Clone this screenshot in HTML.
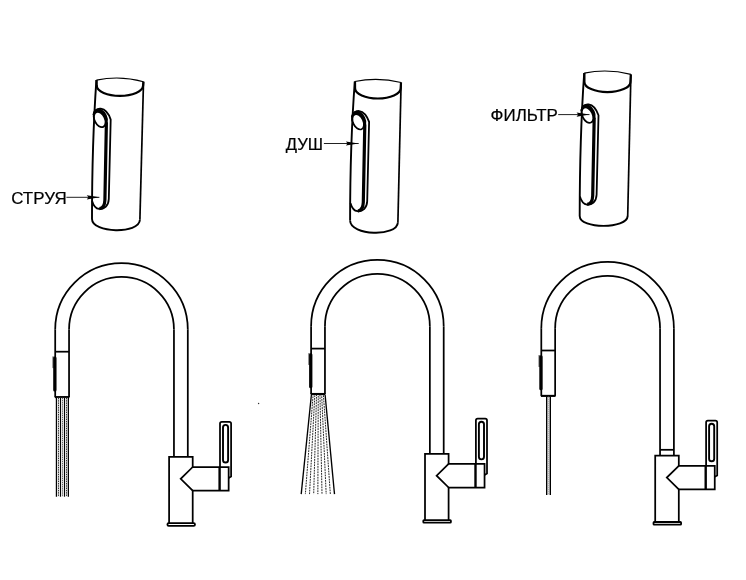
<!DOCTYPE html>
<html><head><meta charset="utf-8"><title>Faucet modes</title>
<style>html,body{margin:0;padding:0;background:#fff;}svg{display:block;} text{will-change:transform;}</style>
</head><body>
<svg width="746" height="580" viewBox="0 0 746 580">
<rect width="746" height="580" fill="#fff"/>
<g fill="none" stroke="#000" stroke-width="1.75"><path d="M55.2,329.4 A66.3,66.3 0 0 1 187.8,329.4" /><path d="M69.05,329.4 A52.45,52.45 0 0 1 173.95,329.4" /><path d="M55.2,329.4 V397.1" /><path d="M69.05,329.4 V397.1" /><path d="M55.2,351.7 H69.05" /><path d="M54.8,397.1 H69.45" stroke-width="2.1" /><rect x="52.4" y="356.2" width="1.4" height="12" rx="0.6" fill="#666" stroke="none"/><rect x="53.2" y="356.4" width="3.3" height="35.0" rx="1.5" fill="#000" stroke="none"/><path d="M173.95,329.4 V456.9" /><path d="M187.8,329.4 V456.9" /><path d="M169.1,523.2 V456.9 H192.7 V467.0 H228.65 V490.6 H192.7 V523.2" /><path d="M192.7,467.0 L180.7,478.8 L192.7,490.6" /><path d="M219.6,467.0 V490.6" stroke-width="2.4"/><path d="M220.0,467.0 V423.6 Q220.0,421.8 221.8,421.8 H229.3 Q231.1,421.8 231.1,423.6 V476.6 L228.65,478" /><rect x="223.0" y="424.9" width="5.1" height="37.6" rx="2.55" stroke-width="1.9"/><rect x="167.4" y="523.2" width="27.6" height="2.6" rx="1.3" stroke-width="1.8"/><rect x="56.80" y="397.9" width="11.2" height="98.80" fill="#e4e4e4" stroke="none"/><path d="M56.40,397.9 V496.7" stroke-width="1.2"/><path d="M60.50,397.9 V496.7" stroke-width="1.0"/><path d="M64.50,397.9 V496.7" stroke-width="1.0"/><path d="M68.40,397.9 V496.7" stroke-width="1.2"/><path d="M58.50,397.9 V496.7" stroke-width="1.0" stroke="#333" stroke-dasharray="1.4 0.9"/><path d="M66.50,397.9 V496.7" stroke-width="1.0" stroke="#333" stroke-dasharray="1.4 0.9"/><path d="M62.50,397.9 V496.7" stroke-width="1.0" stroke="#666" stroke-dasharray="1.3 0.8"/></g>
<g fill="none" stroke="#000" stroke-width="1.75"><path d="M311.1,326.3 A66.3,66.3 0 0 1 443.7,326.3" /><path d="M324.95,326.3 A52.45,52.45 0 0 1 429.85,326.3" /><path d="M311.1,326.3 V394.0" /><path d="M324.95,326.3 V394.0" /><path d="M311.1,348.6 H324.95" /><path d="M310.7,394.0 H325.35" stroke-width="2.1" /><rect x="308.3" y="353.1" width="1.4" height="12" rx="0.6" fill="#666" stroke="none"/><rect x="309.1" y="353.3" width="3.3" height="35.0" rx="1.5" fill="#000" stroke="none"/><path d="M429.85,326.3 V453.8" /><path d="M443.7,326.3 V453.8" /><path d="M425.0,520.1 V453.8 H448.6 V463.9 H484.55 V487.5 H448.6 V520.1" /><path d="M448.6,463.9 L436.6,475.7 L448.6,487.5" /><path d="M475.5,463.9 V487.5" stroke-width="2.4"/><path d="M475.9,463.9 V420.5 Q475.9,418.7 477.7,418.7 H485.2 Q487.0,418.7 487.0,420.5 V473.5 L484.55,474.9" /><rect x="478.9" y="421.8" width="5.1" height="37.6" rx="2.55" stroke-width="1.9"/><rect x="423.3" y="520.1" width="27.6" height="2.6" rx="0.7" stroke-width="1.8"/><path d="M311.40,394.8 L301.20,494.1" stroke-width="1.35"/><path d="M313.11,394.8 L305.36,494.1" stroke-width="0.95" stroke="#1a1a1a" stroke-dasharray="1.8 0.9" stroke-dashoffset="1.10"/><path d="M314.82,394.8 L309.52,494.1" stroke-width="0.95" stroke="#1a1a1a" stroke-dasharray="1.8 0.9" stroke-dashoffset="2.20"/><path d="M316.54,394.8 L313.69,494.1" stroke-width="0.95" stroke="#1a1a1a" stroke-dasharray="1.8 0.9" stroke-dashoffset="0.60"/><path d="M318.25,394.8 L317.85,494.1" stroke-width="0.95" stroke="#1a1a1a" stroke-dasharray="1.8 0.9" stroke-dashoffset="1.70"/><path d="M319.96,394.8 L322.01,494.1" stroke-width="0.95" stroke="#1a1a1a" stroke-dasharray="1.8 0.9" stroke-dashoffset="0.10"/><path d="M321.67,394.8 L326.18,494.1" stroke-width="0.95" stroke="#1a1a1a" stroke-dasharray="1.8 0.9" stroke-dashoffset="1.20"/><path d="M323.39,394.8 L330.34,494.1" stroke-width="0.95" stroke="#1a1a1a" stroke-dasharray="1.8 0.9" stroke-dashoffset="2.30"/><path d="M325.10,394.8 L334.50,494.1" stroke-width="1.35"/></g>
<g fill="none" stroke="#000" stroke-width="1.75"><path d="M541.3,328.2 A66.3,66.3 0 0 1 673.9,328.2" /><path d="M555.15,328.2 A52.45,52.45 0 0 1 660.05,328.2" /><path d="M541.3,328.2 V395.9" /><path d="M555.15,328.2 V395.9" /><path d="M541.3,350.5 H555.15" /><path d="M540.9,395.9 H555.55" stroke-width="2.1" /><rect x="538.5" y="355.0" width="1.4" height="12" rx="0.6" fill="#666" stroke="none"/><rect x="539.3" y="355.2" width="3.3" height="35.0" rx="1.5" fill="#000" stroke="none"/><path d="M660.05,328.2 V455.7" /><path d="M673.9,328.2 V455.7" /><path d="M655.2,522.0 V455.7 H678.8 V465.8 H714.75 V489.4 H678.8 V522.0" /><path d="M678.8,465.8 L666.8,477.6 L678.8,489.4" /><path d="M705.7,465.8 V489.4" stroke-width="2.4"/><path d="M706.1,465.8 V422.4 Q706.1,420.6 707.9,420.6 H715.4 Q717.2,420.6 717.2,422.4 V475.4 L714.75,476.8" /><rect x="709.1" y="423.7" width="5.1" height="37.6" rx="2.55" stroke-width="1.9"/><rect x="653.5" y="522.0" width="27.6" height="2.6" rx="0.7" stroke-width="1.8"/><path d="M546.7,396.7 V495.0" stroke-width="1.4"/><path d="M550.3,396.7 V495.0" stroke-width="1.4"/><path d="M548.5,396.7 V495.0" stroke-width="0.9" stroke="#888" stroke-dasharray="1 1"/><path d="M660.05,449.8 H673.9" /></g>
<g transform="translate(96.4,80.1)" fill="none" stroke="#000"><path d="M0,0 Q23.55,-5.00 47.1,1.6" stroke-width="1.1"/><path d="M0.2,0 L0.32,5.80 A23.17,10.2 0 0 0 46.65,5.80 L47.0,1.6" stroke-width="2.2"/><path d="M0,0 Q-4.4,62.46 -4.4,138.8" stroke-width="1.9"/><path d="M47.1,1.6 L43.5,139.7" stroke-width="1.7"/><path d="M-4.4,138.8 C-4.3,153.27 43.0,154.17 43.5,139.7" stroke-width="1.9"/><g transform="translate(0,0)"><path d="M-3,35 C-1.5,26 9.5,25.5 14.3,39.5 L12.4,118.9 C12.1,125.9 7.6,129.4 2.7,128.8 C-0.9,128.4 -3.4,123.9 -4.3,120.8" stroke-width="1.8"/><path d="M10.0,42 L8.5,120 C8.3,125.5 6.5,128.3 3.0,128.6" stroke-width="3.2"/><ellipse cx="0" cy="0" rx="7.0" ry="9.8" transform="translate(3.9,37.8) rotate(-25)" fill="#000" stroke="none"/><ellipse cx="0" cy="0" rx="5.1" ry="8.15" transform="translate(3.35,39.4) rotate(-25)" fill="#fff" stroke-width="1.7"/></g></g>
<g transform="translate(354.8,81.5)" fill="none" stroke="#000"><path d="M0,0 Q23.15,-4.70 46.3,1.0" stroke-width="1.1"/><path d="M0.2,0 L0.27,6.80 A22.79,10.2 0 0 0 45.85,6.80 L46.2,1.0" stroke-width="2.2"/><path d="M0,0 Q-4.7,62.55 -4.7,139.0" stroke-width="1.9"/><path d="M46.3,1.0 L43.1,140.7" stroke-width="1.7"/><path d="M-4.7,139.0 C-4.6,154.13 42.6,155.83 43.1,140.7" stroke-width="1.9"/><g transform="translate(0,0.9)"><path d="M-3,35 C-1.5,26 9.5,25.5 14.3,39.5 L12.4,118.9 C12.1,125.9 7.6,129.4 2.7,128.8 C-0.9,128.4 -3.4,123.9 -4.3,120.8" stroke-width="1.8"/><path d="M10.0,42 L8.5,120 C8.3,125.5 6.5,128.3 3.0,128.6" stroke-width="3.2"/><ellipse cx="0" cy="0" rx="7.0" ry="9.8" transform="translate(3.9,37.8) rotate(-25)" fill="#000" stroke="none"/><ellipse cx="0" cy="0" rx="5.1" ry="8.15" transform="translate(3.35,39.4) rotate(-25)" fill="#fff" stroke-width="1.7"/></g></g>
<g transform="translate(584.2,73.1)" fill="none" stroke="#000"><path d="M0,0 Q23.35,-4.85 46.7,1.3" stroke-width="1.1"/><path d="M0.2,0 L0.22,8.80 A22.99,10.2 0 0 0 46.20,8.80 L46.6,1.3" stroke-width="2.2"/><path d="M0,0 Q-4.5,64.26 -4.5,142.8" stroke-width="1.9"/><path d="M46.7,1.3 L43.5,142.8" stroke-width="1.7"/><path d="M-4.5,142.8 C-4.4,156.13 43.0,156.13 43.5,142.8" stroke-width="1.9"/><g transform="translate(0,2.7)"><path d="M-3,35 C-1.5,26 9.5,25.5 14.3,39.5 L12.4,118.9 C12.1,125.9 7.6,129.4 2.7,128.8 C-0.9,128.4 -3.4,123.9 -4.3,120.8" stroke-width="1.8"/><path d="M10.0,42 L8.5,120 C8.3,125.5 6.5,128.3 3.0,128.6" stroke-width="3.2"/><ellipse cx="0" cy="0" rx="7.0" ry="9.8" transform="translate(3.9,37.8) rotate(-25)" fill="#000" stroke="none"/><ellipse cx="0" cy="0" rx="5.1" ry="8.15" transform="translate(3.35,39.4) rotate(-25)" fill="#fff" stroke-width="1.7"/></g></g>
<path d="M66.4,197.3 L99.4,197.3" stroke="#222" stroke-width="1" fill="none"/><path d="M99.4,197.3 L86.8,195.20 L88.4,197.30 L86.8,199.40 Z" fill="#000"/>
<path d="M323.9,143.5 L358.7,143.5" stroke="#222" stroke-width="1" fill="none"/><path d="M358.7,143.5 L345.9,141.40 L347.5,143.50 L345.9,145.60 Z" fill="#000"/>
<path d="M558.2,114.6 L589.5,114.6" stroke="#222" stroke-width="1" fill="none"/><path d="M589.5,114.6 L576.6,112.50 L578.2,114.60 L576.6,116.70 Z" fill="#000"/>
<text x="11.2" y="203.9" textLength="55.6" lengthAdjust="spacingAndGlyphs" font-family="Liberation Sans" font-size="16.3" fill="#000" stroke="#000" stroke-width="0.2">СТРУЯ</text>
<text x="285.8" y="149.6" textLength="37.3" lengthAdjust="spacingAndGlyphs" font-family="Liberation Sans" font-size="16.3" fill="#000" stroke="#000" stroke-width="0.2">ДУШ</text>
<text x="490.6" y="120.5" textLength="67.2" lengthAdjust="spacingAndGlyphs" font-family="Liberation Sans" font-size="16.3" fill="#000" stroke="#000" stroke-width="0.2">ФИЛЬТР</text>
<circle cx="258.6" cy="403.5" r="0.7" fill="#333"/>
</svg>
</body></html>
